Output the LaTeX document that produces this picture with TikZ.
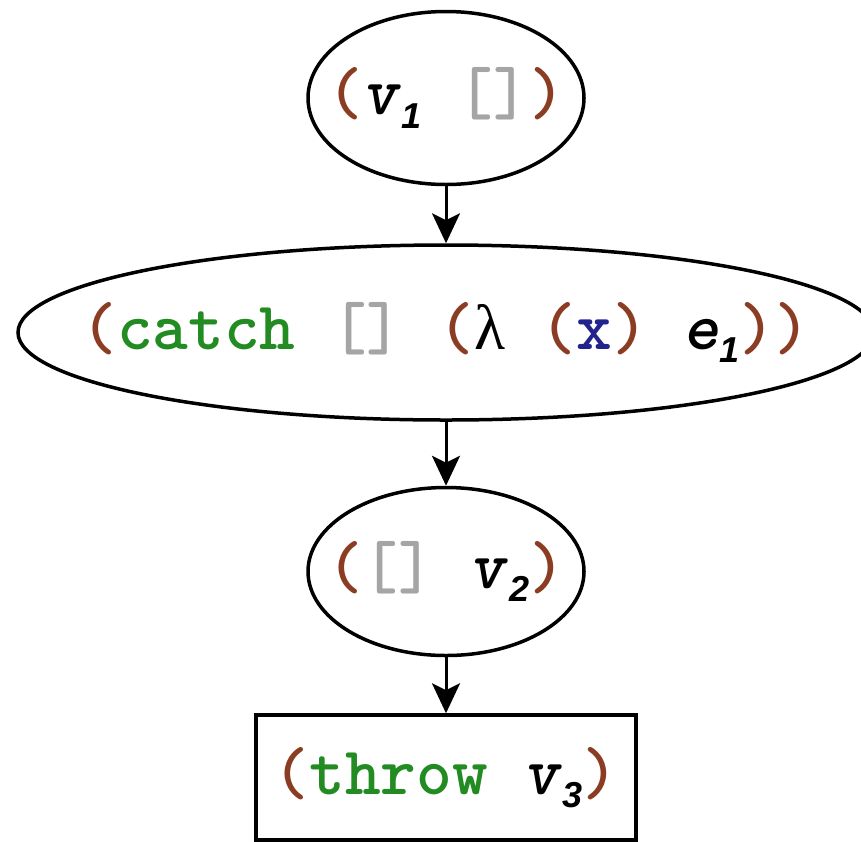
\documentclass[tikz,border=0pt]{standalone}
\usepackage{fontspec}
\newfontfamily\subfont{Liberation Sans}
\newfontfamily\lamfont{Liberation Serif}
\usepackage{xcolor}
\usepackage{tikz}
\usetikzlibrary{shapes.geometric, arrows.meta, positioning}
\definecolor{parcol}{RGB}{139,61,35}
\definecolor{kwcol}{RGB}{34,139,34}
\definecolor{holecol}{RGB}{165,165,165}
\definecolor{varcol}{RGB}{35,35,140}
\newcommand{\pl}{\textcolor{parcol}{(}}
\newcommand{\pr}{\textcolor{parcol}{)}}
\newcommand{\hole}{\textcolor{holecol}{[]}}
\newcommand{\kw}[1]{\textcolor{kwcol}{#1}}
\newcommand{\mv}[2]{\textit{#1}\raisebox{-0.2em}{\fontsize{36}{40}\selectfont\subfont\itshape #2}}
\newcommand{\code}[1]{\makebox[0pt][c]{\ttfamily\bfseries #1}}
\tikzstyle{redex} = [ellipse, draw, line width=3.5pt, inner sep=0pt, font=\fontsize{68}{80}\selectfont]
\tikzstyle{stop} = [rectangle, draw, line width=3.5pt, inner sep=0pt, font=\fontsize{68}{80}\selectfont]
\tikzstyle{arrow} = [line width=3pt, -{Stealth[length=30pt,width=28pt,inset=7pt]}]

\begin{document}
\begin{tikzpicture}
    \useasboundingbox (0pt,0pt) rectangle (861pt,-841pt);

    % Contextos
    \node (top) [redex, minimum width=276pt, minimum height=173pt] at (446pt,-98pt) {\code{\pl\mv{v}{1} \hole\pr}};
    \node (catch) [redex, below=57pt of top, minimum width=856pt, minimum height=175pt] {\code{\pl\kw{catch} \hole{} \pl{\lamfont\mdseries\fontsize{64}{72}\selectfont λ} \pl\textcolor{varcol}{x}\pr{} \mv{e}{1}\pr\pr}};
    \node (app) [redex, below=64pt of catch, minimum width=276pt, minimum height=168pt] {\code{\pl\hole{} \mv{v}{2}\pr}};

    % Resultado
    \node (throw) [stop, below=56pt of app, minimum width=380pt, minimum height=125pt] {\code{\pl\kw{throw} \mv{v}{3}\pr}};

    % Flechas
    \draw [arrow] (top) -- (catch);
    \draw [arrow] (catch) -- (app);
    \draw [arrow] (app) -- (throw);
\end{tikzpicture}
\end{document}
